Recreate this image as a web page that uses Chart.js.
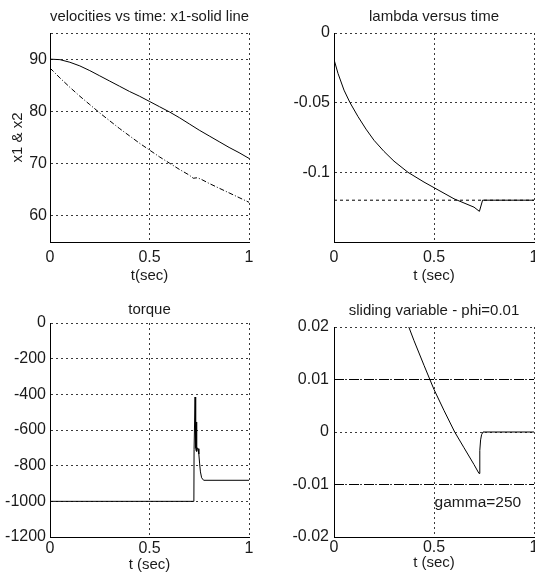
<!DOCTYPE html>
<html>
<head>
<meta charset="utf-8">
<script src="https://cdn.jsdelivr.net/npm/chart.js@4"></script>
<style>
  body { margin: 0; background: #fff; }
  .panel { position: absolute; }
</style>
</head>
<body>
<div class="panel" style="left:0;top:0"><canvas id="velocity" width="267" height="290"></canvas></div>
<div class="panel" style="left:267px;top:0"><canvas id="lambda" width="268" height="290"></canvas></div>
<div class="panel" style="left:0;top:290px"><canvas id="torque" width="267" height="290"></canvas></div>
<div class="panel" style="left:267px;top:290px"><canvas id="sliding" width="268" height="290"></canvas></div>
<script>
// time axis shared by all four plots
const tTicks = [0, 0.5, 1];
const tLabels = ["0", "0.5", "1"];

// velocities x1 (solid) and x2 (dash-dot)
const x1T = [0, 0.05, 0.1, 0.15, 0.2, 0.25, 0.3, 0.35, 0.4, 0.45, 0.5, 0.55, 0.6, 0.65, 0.7, 0.75, 0.8, 0.85, 0.9, 0.95, 1];
const x1 = [90, 89.9, 89.4, 88.7, 87.8, 86.8, 85.8, 84.8, 83.8, 82.9, 81.9, 80.9, 79.9, 78.8, 77.6, 76.4, 75.3, 74.2, 73.1, 72.1, 71.0];
const x2T = [0, 0.05, 0.1, 0.15, 0.2, 0.25, 0.3, 0.35, 0.4, 0.45, 0.5, 0.55, 0.6, 0.65, 0.7, 0.72, 0.74, 0.76, 0.8, 0.85, 0.9, 0.95, 1];
const x2 = [88.3, 86.4, 84.6, 82.9, 81.3, 79.7, 78.2, 76.7, 75.3, 73.9, 72.6, 71.3, 70.1, 68.9, 67.8, 67.2, 67.3, 67.0, 66.2, 65.3, 64.4, 63.5, 62.6];
const velYTicks = [55, 60, 70, 80, 90, 95];
const velYLabels = ["", "60", "70", "80", "90", ""];

// lambda
const lambdaT = [0, 0.02, 0.05, 0.08, 0.12, 0.16, 0.2, 0.25, 0.3, 0.37, 0.45, 0.5, 0.55, 0.6, 0.65, 0.7, 0.727, 0.743, 1];
const lambda = [-0.019, -0.029, -0.041, -0.050, -0.060, -0.069, -0.077, -0.085, -0.092, -0.100, -0.107, -0.111, -0.115, -0.119, -0.122, -0.125, -0.128, -0.12, -0.12];
const lambdaRefT = [0, 1];
const lambdaRef = [-0.12, -0.12];
const lambdaYTicks = [-0.15, -0.1, -0.05, 0];
const lambdaYLabels = ["", "-0.1", "-0.05", "0"];

// torque
const torqueT = [0, 0.723, 0.724, 0.727, 0.729, 0.732, 0.734, 0.736, 0.738, 0.741, 0.744, 0.748, 0.752, 0.756, 0.762, 0.772, 1];
const torque = [-1000, -1000, -710, -710, -415, -700, -715, -555, -720, -700, -705, -735, -790, -835, -868, -882, -882];
const torqueYTicks = [-1200, -1000, -800, -600, -400, -200, 0];
const torqueYLabels = ["-1200", "-1000", "-800", "-600", "-400", "-200", "0"];

// sliding variable with boundary layer +-phi
const slideT = [0.374, 0.4, 0.45, 0.5, 0.55, 0.6035, 0.65, 0.7, 0.725, 0.729, 0.733, 0.738, 0.745, 1];
const slide = [0.02, 0.0174, 0.0127, 0.0081, 0.0041, 0, -0.003, -0.0062, -0.0079, -0.0035, -0.0015, -0.0005, 0, 0];
const phiT = [0, 1];
const phiUp = [0.01, 0.01];
const phiDown = [-0.01, -0.01];
const slideYTicks = [-0.02, -0.01, 0, 0.01, 0.02];
const slideYLabels = ["-0.02", "-0.01", "0", "0.01", "0.02"];
const noteText = "gamma=250";
const notePos = [0.503, -0.0134];

const FONT = "'Liberation Sans', Arial, sans-serif";
const INK = "#1a1a1a";
const GRID = "#3a3a3a";

const pts = (xs, ys) => xs.map((x, i) => ({ x: x, y: ys[i] }));

const line = (xs, ys, dash) => ({
  data: pts(xs, ys),
  borderColor: "#000",
  borderWidth: 1,
  borderDash: dash || [],
  pointRadius: 0,
  tension: 0,
  fill: false,
});

const gammaNote = {
  id: "gammaNote",
  afterDatasetsDraw(chart) {
    const { ctx, scales } = chart;
    ctx.save();
    ctx.font = "15.5px " + FONT;
    ctx.fillStyle = INK;
    ctx.textBaseline = "middle";
    ctx.fillText(noteText, scales.x.getPixelForValue(notePos[0]), scales.y.getPixelForValue(notePos[1]));
    ctx.restore();
  },
};

const makePlot = (id, o) => {
  let ctx = document.getElementById(id).getContext("2d");

  return new Chart(ctx, {
    type: "line",
    data: { datasets: o.datasets },
    plugins: o.plugins || [],
    options: {
      responsive: false,
      animation: false,
      layout: { padding: { left: 0, top: 0, right: o.rightPad, bottom: 0 } },
      plugins: {
        legend: { display: false },
        tooltip: { enabled: false },
        title: {
          display: true,
          text: o.title,
          fullSize: false,
          color: INK,
          font: { family: FONT, size: 15, weight: "normal" },
          padding: { top: o.titlePad[0], bottom: o.titlePad[1] },
        },
      },
      scales: {
        x: {
          type: "linear",
          min: 0,
          max: 1,
          afterBuildTicks: (s) => { s.ticks = tTicks.map((v) => ({ value: v })); },
          afterFit: (s) => { s.height = o.xHeight; s.paddingLeft = 0; s.paddingRight = 0; },
          ticks: {
            padding: o.xTickPad,
            maxRotation: 0,
            autoSkip: false,
            color: INK,
            font: { family: FONT, size: 16 },
            callback: (v, i) => tLabels[i],
          },
          grid: { color: GRID, drawTicks: false },
          border: { color: "#000", dash: [2, 3] },
          title: {
            display: true,
            text: o.xLabel,
            color: INK,
            font: { family: FONT, size: 15 },
            padding: { top: 0, bottom: o.xLabelPad },
          },
        },
        y: {
          type: "linear",
          min: o.yTicks[0],
          max: o.yTicks[o.yTicks.length - 1],
          afterBuildTicks: (s) => { s.ticks = o.yTicks.map((v) => ({ value: v })); },
          afterFit: (s) => { s.width = o.yWidth; s.paddingTop = 0; s.paddingBottom = 0; },
          ticks: {
            padding: o.yTickPad,
            autoSkip: false,
            color: INK,
            font: { family: FONT, size: 16 },
            callback: (v, i) => o.yLabels[i],
          },
          grid: { color: GRID, drawTicks: false },
          border: { color: "#000", dash: [2, 3] },
          title: {
            display: !!o.yLabel,
            text: o.yLabel || "",
            color: INK,
            font: { family: FONT, size: 15 },
            padding: { top: o.yLabelPad || 0, bottom: 0 },
          },
        },
      },
    },
  });
};

makePlot("velocity", {
  title: "velocities vs time: x1-solid line",
  xLabel: "t(sec)",
  yLabel: "x1 & x2",
  yTicks: velYTicks,
  yLabels: velYLabels,
  datasets: [line(x1T, x1), line(x2T, x2, [5, 2, 1, 2])],
  titlePad: [8, 7], rightPad: 18, yWidth: 50, yTickPad: 3, yLabelPad: 9,
  xHeight: 48, xTickPad: 6, xLabelPad: 5,
});

makePlot("lambda", {
  title: "lambda versus time",
  xLabel: "t (sec)",
  yTicks: lambdaYTicks,
  yLabels: lambdaYLabels,
  datasets: [line(lambdaT, lambda), line(lambdaRefT, lambdaRef, [3, 3])],
  titlePad: [8, 7], rightPad: 1, yWidth: 67, yTickPad: 4,
  xHeight: 48, xTickPad: 6, xLabelPad: 5,
});

makePlot("torque", {
  title: "torque",
  xLabel: "t (sec)",
  yTicks: torqueYTicks,
  yLabels: torqueYLabels,
  datasets: [line(torqueT, torque)],
  titlePad: [11, 4], rightPad: 18, yWidth: 50, yTickPad: 4,
  xHeight: 43, xTickPad: 2, xLabelPad: 6,
});

makePlot("sliding", {
  title: "sliding variable - phi=0.01",
  xLabel: "t (sec)",
  yTicks: slideYTicks,
  yLabels: slideYLabels,
  datasets: [line(slideT, slide), line(phiT, phiUp, [10, 5]), line(phiT, phiDown, [10, 5])],
  plugins: [gammaNote],
  titlePad: [12, 7], rightPad: 1, yWidth: 67, yTickPad: 5,
  xHeight: 43, xTickPad: 1, xLabelPad: 8,
});
</script>
</body>
</html>
